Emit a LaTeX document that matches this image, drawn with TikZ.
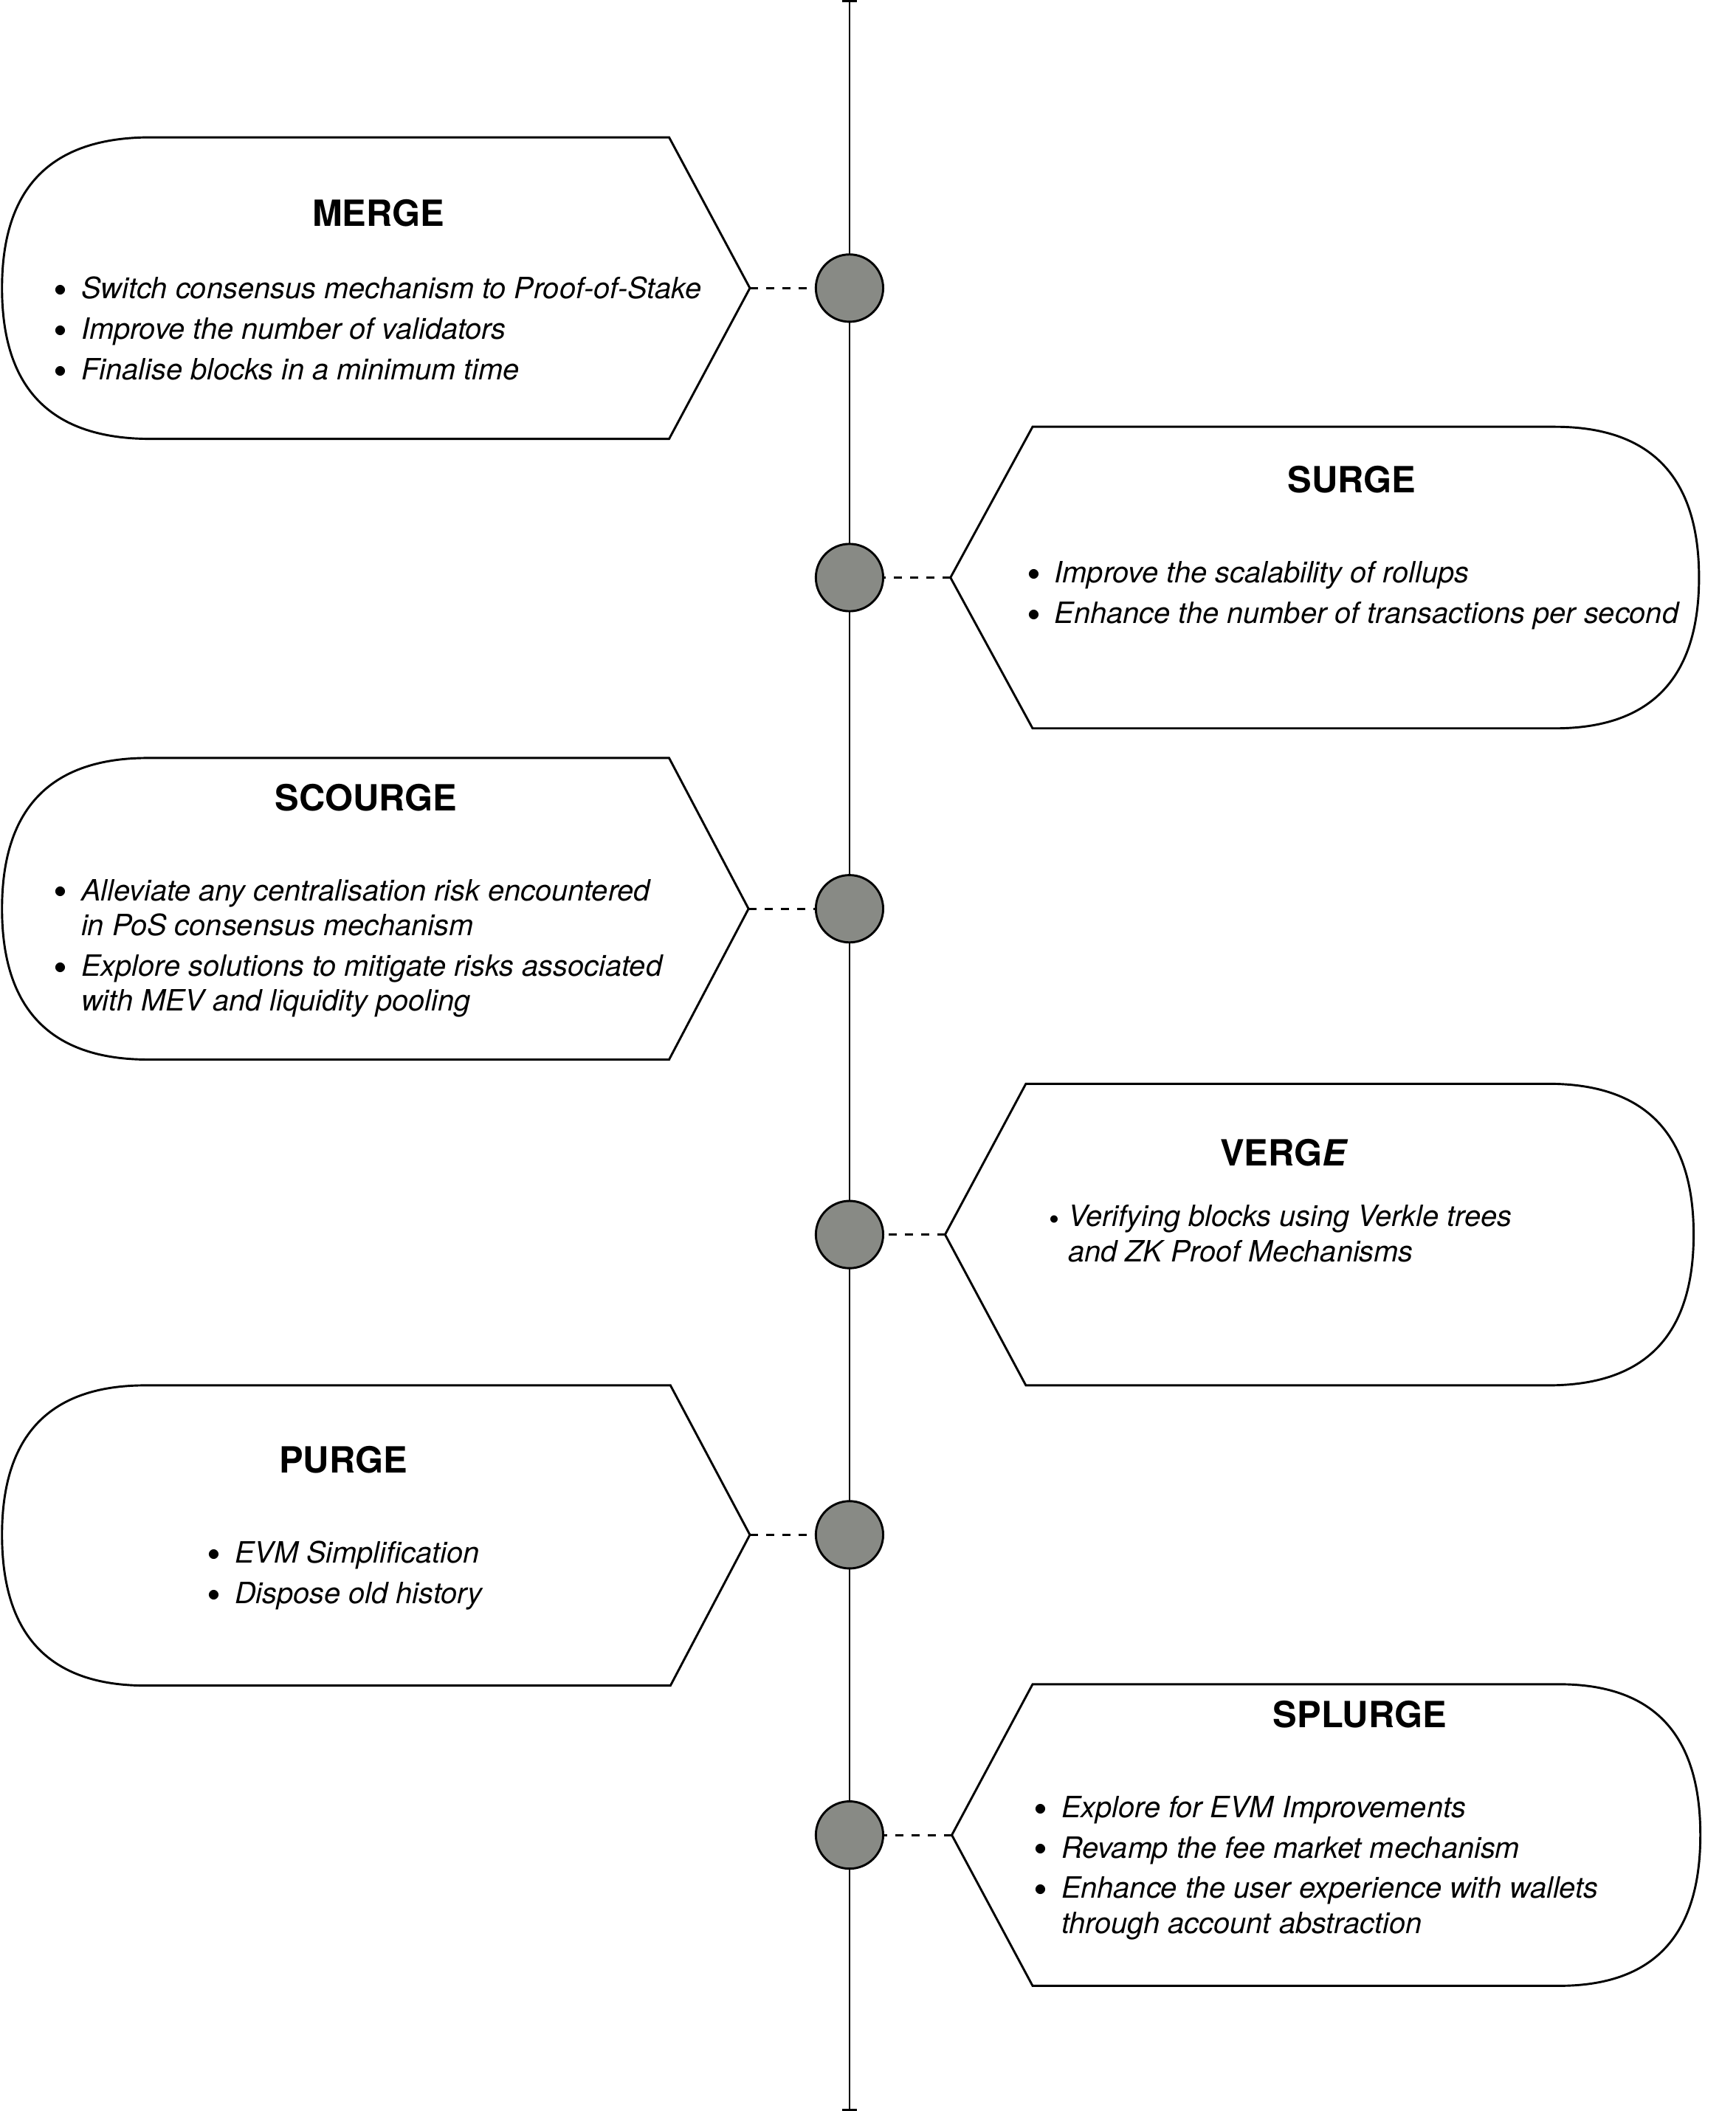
\documentclass[tikz,border=0pt]{standalone}
\usepackage{fontspec}
\setmainfont{TeX Gyre Heros}
\usetikzlibrary{arrows.meta}
\definecolor{dotgray}{HTML}{888A85}
\newcommand{\headfont}{\fontsize{13.4}{16}\selectfont\bfseries}
\newcommand{\listfont}{\fontsize{10.9}{13}\selectfont\itshape}
\newcommand{\blt}{\makebox[10pt][l]{\raisebox{0.9pt}{\scalebox{0.85}{$\bullet$}}}}
\newcommand{\sblt}{\makebox[7pt][l]{\raisebox{0.9pt}{\scalebox{0.65}{$\bullet$}}}}
\newcommand{\ind}{\hspace*{10pt}}
\newcommand{\sind}{\hspace*{7pt}}

\begin{document}
\begin{tikzpicture}[x=0.5pt, y=-0.5pt,
    box/.style={draw, line width=0.8pt},
    dot/.style={circle, draw, fill=dotgray, line width=0.8pt, minimum size=25pt, inner sep=0pt},
    link/.style={draw, dashed, line width=0.8pt},
    head/.style={anchor=base, inner sep=0pt, font=\headfont},
    list/.style={anchor=base west, inner sep=0pt, font=\listfont}]
\useasboundingbox (0,0) rectangle (1289,1568);

% time line
\coordinate (start) at (631,0);
\coordinate (end) at (631,1568);
\draw[line width=0.7pt, {Bar[width=5.5pt,line width=0.9pt]}-{Bar[width=5.5pt,line width=0.9pt]}] (start) -- (end);

% MERGE
\draw[box] (112,102) -- (497,102) -- (557,214) coordinate (mergetip) -- (497,326) -- (112,326)
    .. controls (38,326) and (1.5,289) .. (1.5,214) .. controls (1.5,139) and (38,102) .. (112,102) -- cycle;
\node[head] (mergehead) at (281,168) {MERGE};
\node[list] (mergelist) at (40,222) {\begin{tabular}[t]{@{}l@{}}
    \blt Switch consensus mechanism to Proof-of-Stake\\[2pt]
    \blt Improve the number of validators\\[2pt]
    \blt Finalise blocks in a minimum time
    \end{tabular}};

% SURGE
\draw[box] (767,317) -- (1155,317) .. controls (1226,317) and (1262,354) .. (1262,429)
    .. controls (1262,504) and (1226,541) .. (1155,541) -- (767,541) -- (706,429) coordinate (surgetip) -- cycle;
\node[head] (surgehead) at (1004,366) {SURGE};
\node[list] (surgelist) at (763,433) {\begin{tabular}[t]{@{}l@{}}
    \blt Improve the scalability of rollups\\[2pt]
    \blt Enhance the number of transactions per second
    \end{tabular}};

% SCOURGE
\draw[box] (110,563) -- (497,563) -- (556,675) coordinate (scourgetip) -- (497,787) -- (110,787)
    .. controls (38,787) and (1.5,750) .. (1.5,675) .. controls (1.5,600) and (38,563) .. (110,563) -- cycle;
\node[head] (scourgehead) at (272,602) {SCOURGE};
\node[list] (scourgelist) at (40,669) {\begin{tabular}[t]{@{}l@{}}
    \blt Alleviate any centralisation risk encountered\\
    \ind in PoS consensus mechanism\\[2pt]
    \blt Explore solutions to mitigate risks associated\\
    \ind with MEV and liquidity pooling
    \end{tabular}};

% VERGE
\draw[box] (762,805) -- (1150,805) .. controls (1222,805) and (1258,842) .. (1258,917)
    .. controls (1258,992) and (1222,1029) .. (1150,1029) -- (762,1029) -- (702,917) coordinate (vergetip) -- cycle;
\node[head] (vergehead) at (954,866) {VERG\textit{E}};
\node[list] (vergelist) at (779,911) {\begin{tabular}[t]{@{}l@{}}
    \sblt Verifying blocks using Verkle trees\\
    \sind and ZK Proof Mechanisms
    \end{tabular}};

% PURGE
\draw[box] (108,1029) -- (498,1029) -- (557,1140) coordinate (purgetip) -- (498,1252) -- (108,1252)
    .. controls (37,1252) and (1.5,1215) .. (1.5,1140) .. controls (1.5,1066) and (37,1029) .. (108,1029) -- cycle;
\node[head] (purgehead) at (255,1094) {PURGE};
\node[list] (purgelist) at (154,1161) {\begin{tabular}[t]{@{}l@{}}
    \blt EVM Simplification\\[2pt]
    \blt Dispose old history
    \end{tabular}};

% SPLURGE
\draw[box] (767,1251) -- (1158,1251) .. controls (1228,1251) and (1263,1288) .. (1263,1363)
    .. controls (1263,1438) and (1228,1475) .. (1158,1475) -- (767,1475) -- (707,1363) coordinate (splurgetip) -- cycle;
\node[head] (splurgehead) at (1010,1283) {SPLURGE};
\node[list] (splurgelist) at (768,1350) {\begin{tabular}[t]{@{}l@{}}
    \blt Explore for EVM Improvements\\[2pt]
    \blt Revamp the fee market mechanism\\[2pt]
    \blt Enhance the user experience with wallets\\
    \ind through account abstraction
    \end{tabular}};

% milestones
\node[dot] (mergedot) at (631,214) {};
\node[dot] (surgedot) at (631,429) {};
\node[dot] (scourgedot) at (631,675) {};
\node[dot] (vergedot) at (631,917) {};
\node[dot] (purgedot) at (631,1140) {};
\node[dot] (splurgedot) at (631,1363) {};

\draw[link] (mergetip) -- (mergedot);
\draw[link] (surgetip) -- (surgedot);
\draw[link] (scourgetip) -- (scourgedot);
\draw[link] (vergetip) -- (vergedot);
\draw[link] (purgetip) -- (purgedot);
\draw[link] (splurgetip) -- (splurgedot);
\end{tikzpicture}
\end{document}
